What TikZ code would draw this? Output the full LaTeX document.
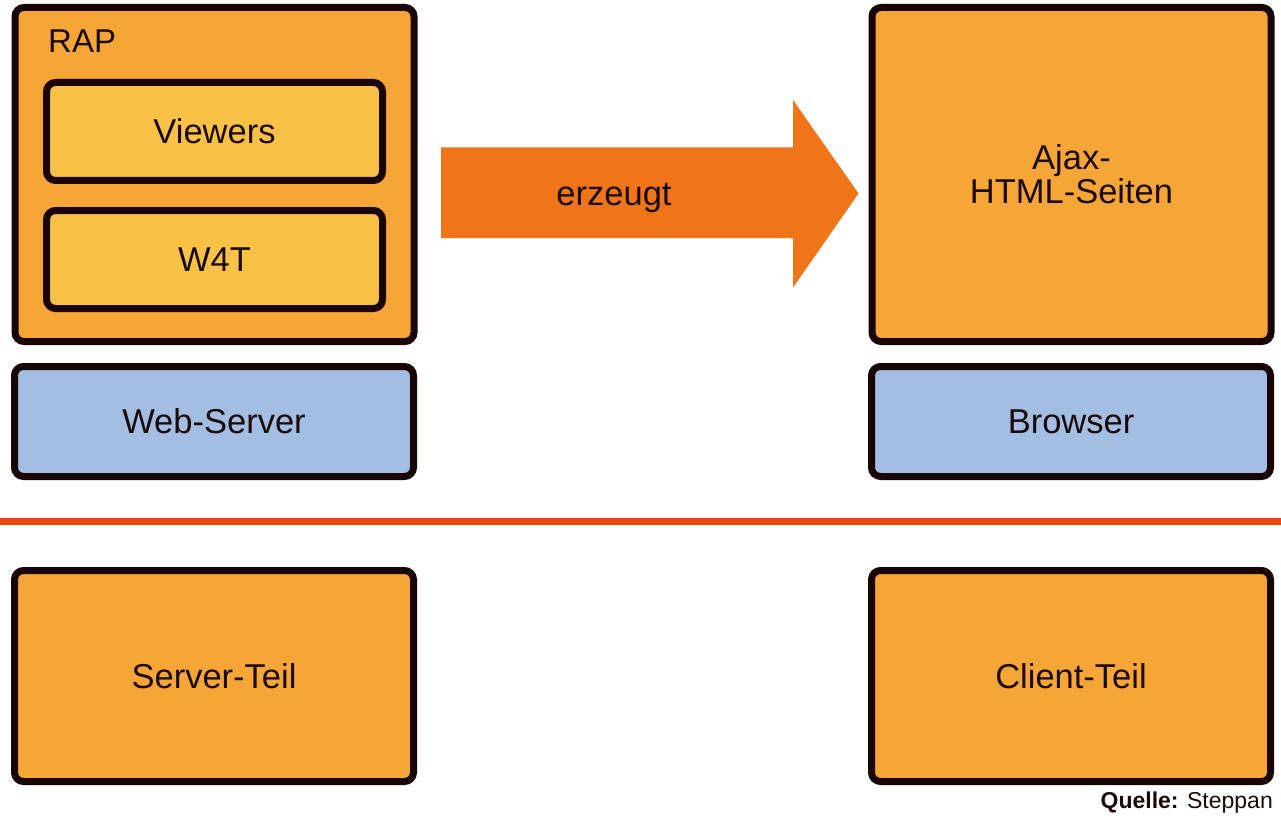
\documentclass[tikz,border=0pt]{standalone}
\usepackage{fontspec}
\setmainfont{Liberation Sans}
\definecolor{boxorange}{HTML}{F6A537}
\definecolor{inneryellow}{HTML}{F9C145}
\definecolor{boxblue}{HTML}{A3BDE3}
\definecolor{arroworange}{HTML}{F07418}
\definecolor{linered}{HTML}{E8470F}
\definecolor{edge}{HTML}{1A0505}
\definecolor{txt}{HTML}{1A0A0A}
\begin{document}
\begin{tikzpicture}[x=1pt,y=-1pt,
  box/.style={draw=edge,line width=7pt,rounded corners=9pt,inner sep=0pt,
    text=txt,font=\fontsize{34.5}{34}\selectfont,align=center},
  orangebox/.style={box,fill=boxorange},
  yellowbox/.style={box,fill=inneryellow,minimum width=336pt,minimum height=98pt},
  bluebox/.style={box,fill=boxblue,minimum width=399pt,minimum height=110pt},
  bigbox/.style={orangebox,minimum width=399pt,minimum height=334pt},
  basebox/.style={orangebox,minimum width=399pt,minimum height=211pt}]
\useasboundingbox (0,0) rectangle (1281,829);
\fill[white] (0,0) rectangle (1281,829);
% server side
\node[bigbox] (rap) at (214.5,174.5) {};
\node[anchor=base west,inner sep=0pt,text=txt,font=\fontsize{33}{33}\selectfont] (raplabel) at (48,53) {RAP};
\node[yellowbox] (viewers) at (214.5,131.5) {Viewers};
\node[yellowbox] (w4t) at (214.5,259.5) {W4T};
\node[bluebox] (web) at (214,421.5) {Web-Server};
% client side
\node[bigbox] (ajax) at (1071.5,174.5) {Ajax-\\HTML-Seiten};
\node[bluebox] (browser) at (1071,421.5) {Browser};
% arrow
\fill[arroworange] (441,147.5) -- (793,147.5) -- (793,100) -- (858.5,193.5) -- (793,287.5) -- (793,238) -- (441,238) -- cycle;
\node[anchor=base,inner sep=0pt,text=txt,font=\fontsize{34.5}{34}\selectfont] (erz) at (614,205) {erzeugt};
% separator
\coordinate (sepL) at (0,521);
\coordinate (sepR) at (1281,521);
\draw[linered,line width=7pt] (sepL) -- (sepR);
% bottom boxes
\node[basebox] (server) at (214,676) {Server-Teil};
\node[basebox] (client) at (1071,676) {Client-Teil};
% source
\node[anchor=base east,inner sep=0pt,text=txt,font=\fontsize{23}{23}\selectfont] (src) at (1273,808) {\textbf{Quelle:} Steppan};
\end{tikzpicture}
\end{document}
